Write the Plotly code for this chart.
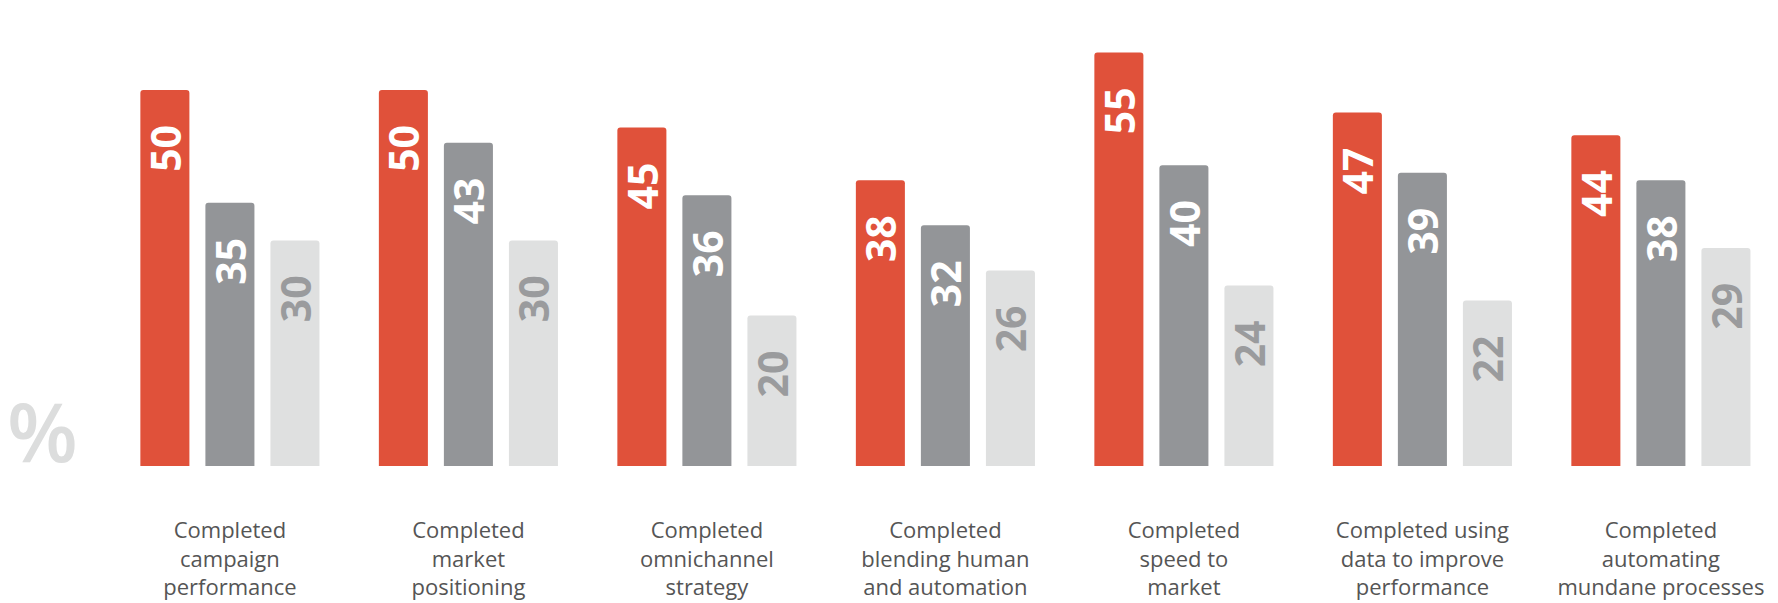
import plotly.graph_objects as go

categories = [
    "Completed<br>campaign<br>performance",
    "Completed<br>market<br>positioning",
    "Completed<br>omnichannel<br>strategy",
    "Completed<br>blending human<br>and automation",
    "Completed<br>speed to<br>market",
    "Completed using<br>data to improve<br>performance",
    "Completed<br>automating<br>mundane processes",
]
series_a = [50, 50, 45, 38, 55, 47, 44]
series_b = [35, 43, 36, 32, 40, 39, 38]
series_c = [30, 30, 20, 26, 24, 22, 29]

colors = ["#e0513a", "#939598", "#dfe0e0"]
text_colors = ["#ffffff", "#ffffff", "#9a9b9d"]

x_idx = list(range(len(categories)))

fig = go.Figure()
for vals, col, tcol in zip([series_a, series_b, series_c], colors, text_colors):
    fig.add_trace(go.Bar(
        x=x_idx, y=vals,
        marker=dict(color=col, line=dict(width=0), cornerradius=3),
        texttemplate="%{y}\u00a0\u00a0\u00a0",
        textposition="inside",
        insidetextanchor="end",
        textangle=-90,
        textfont=dict(family="Open Sans", size=41, color=tcol, weight="bold"),
        constraintext="none",
        hoverinfo="skip",
    ))

fig.add_annotation(
    text="%", xref="paper", yref="paper", x=0.003, y=0.0, xanchor="left", yanchor="bottom",
    yshift=-22,
    showarrow=False, font=dict(family="Open Sans", size=82, color="#dcdddd", weight=600),
)

fig.update_layout(
    width=1778, height=603,
    margin=dict(l=0, r=0, t=0, b=137),
    paper_bgcolor="white", plot_bgcolor="white",
    barmode="group", bargap=0.182, bargroupgap=0.246,
    showlegend=False,
    uniformtext=dict(mode=False),
    xaxis=dict(
        range=[-0.964, 6.491],
        tickmode="array", tickvals=x_idx, ticktext=categories,
        showgrid=False, zeroline=False, showline=False, ticks="",
        tickfont=dict(family="Open Sans", size=22, color="#555555"),
        ticklabelstandoff=49,
    ),
    yaxis=dict(range=[0, 61.97], visible=False),
)

fig.write_html("out.html")
